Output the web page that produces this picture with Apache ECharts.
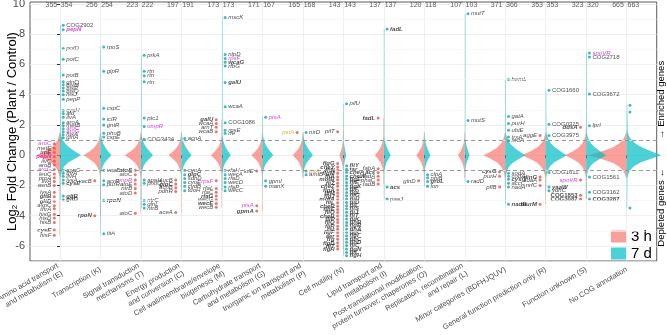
<!DOCTYPE html>
<html>
<head>
<meta charset="utf-8">
<script src="https://cdn.jsdelivr.net/npm/echarts@6/dist/echarts.min.js"></script>
<style>
  html, body { margin: 0; padding: 0; background: #fff; }
  #chart { width: 667px; height: 335px; }
</style>
</head>
<body>
<div id="chart"></div>
<script>
// COG categories (x axis)
const categories = [
  'Amino acid transport\nand metabolism (E)',
  'Transcription (K)',
  'Signal transduction\nmechanisms (T)',
  'Energy production\nand conversion (C)',
  'Cell wall/membrane/envelope\nbiogenesis (M)',
  'Carbohydrate transport\nand metabolism (G)',
  'Inorganic ion transport and\nmetabolism (P)',
  'Cell motility (N)',
  'Lipid transport and\nmetabolism (I)',
  'Post-translational modification,\nprotein turnover, chaperones (O)',
  'Replication, recombination\nand repair (L)',
  'Minor categories (BDFHJQUV)',
  'General function prediction only (R)',
  'Function unknown (S)',
  'No COG annotation'
];

// gene counts printed on top
const count3h = [355, 256, 223, 197, 173, 171, 165, 143, 137, 120, 107, 371, 353, 323, 665];
const count7d = [354, 254, 222, 191, 173, 167, 168, 143, 137, 118, 103, 366, 353, 320, 663];

// violin peak half-widths (category units)
const width3h = [0.59, 0.42, 0.40, 0.32, 0.27, 0.27, 0.25, 0.10, 0.22, 0.20, 0.17, 0.54, 0.59, 0.52, 0.96];
const width7d = [0.52, 0.27, 0.30, 0.25, 0.22, 0.27, 0.25, 0.07, 0.17, 0.15, 0.12, 0.49, 0.52, 0.49, 0.86];

// shared violin body profile (relative density at log2FC levels)
const profileY  = [-1.5, -1.25, -1, -0.75, -0.5, -0.25, 0, 0.25, 0.5, 0.75, 1, 1.25, 1.5];
const profile3h = [0.02, 0.05, 0.1, 0.2, 0.36, 0.65, 1, 0.65, 0.36, 0.2, 0.1, 0.05, 0.02];
const profile7d = [0.02, 0.05, 0.1, 0.2, 0.38, 0.68, 1, 0.72, 0.45, 0.26, 0.14, 0.07, 0.03];

const yTicks = [-6, -4, -2, 0, 2, 4, 6, 8, 10];
const yMinor = [-7, -5, -3, -1, 1, 3, 5, 7, 9];

// labelled genes: [category, log2FC, gene]
const genes3h = [
  [0, 0.75, 'aroC'], [0, 0.45, 'metE'], [0, 0.2, 'trpE'], [0, -0.1, 'pepN'], [0, -0.4, 'ilvC'],
  [0, -0.65, 'aroB'], [0, -0.95, 'aroG'], [0, -1.25, 'leuC'], [0, -1.5, 'proA'], [0, -1.75, 'ilvA'],
  [0, -2.0, 'asnB'], [0, -2.45, 'lysA'], [0, -2.75, 'gltB'], [0, -3.05, 'gltD'], [0, -3.35, 'aspC'],
  [0, -3.55, 'thrA'], [0, -3.9, 'hisG'], [0, -4.15, 'hisD'], [0, -4.45, 'hisB'], [0, -4.95, 'cysE'],
  [0, -5.3, 'hisF'],
  [1, -1.7, 'vacB'], [1, -4.0, 'rpoN'],
  [2, -1.0, 'atoS'], [2, -1.3, 'atoC'], [2, -1.65, 'ompR'], [2, -1.9, 'atoE'], [2, -2.2, 'ntrB'],
  [2, -2.5, 'atoD'], [2, -3.85, 'atoC'],
  [3, -1.65, 'sucB'], [3, -1.9, 'glpC'], [3, -2.15, 'acnB'], [3, -2.4, 'pdhR'], [3, -3.8, 'aceA'],
  [4, 2.35, 'galU'], [4, 2.1, 'wcaA'], [4, 1.85, 'arnT'], [4, 1.55, 'wcaB'], [4, -1.7, 'rpsF'],
  [4, -2.2, 'rfaL'], [4, -2.45, 'rfaC'], [4, -2.7, 'rfaG'], [4, -2.95, 'wecG'], [4, -3.2, 'wecE'],
  [4, -3.45, 'wecB'],
  [5, -1.05, 'lolE'], [5, -3.35, 'ptsA'], [5, -3.7, 'gpmA'],
  [6, 1.5, 'pstA'],
  [7, 1.55, 'pilT'], [7, -0.55, 'flgG'], [7, -0.78, 'cheY'], [7, -0.98, 'fliN'], [7, -1.2, 'flgM'],
  [7, -1.42, 'fliA'], [7, -1.63, 'motB'], [7, -1.85, 'fliZ'], [7, -2.06, 'cheZ'], [7, -2.3, 'flgA'],
  [7, -2.5, 'fliM'], [7, -2.72, 'flgJ'], [7, -2.95, 'motA'], [7, -3.15, 'fliL'], [7, -3.38, 'cheR'],
  [7, -3.6, 'flhE'], [7, -3.8, 'fliO'], [7, -4.03, 'cheB'], [7, -4.25, 'fliP'], [7, -4.46, 'fliQ'],
  [7, -4.7, 'fliR'], [7, -4.9, 'tsr'], [7, -5.12, 'flgF'], [7, -5.35, 'aer'], [7, -5.56, 'trg'],
  [7, -5.8, 'flgD'], [7, -6.0, 'fliT'], [7, -6.2, 'flgH'],
  [8, 2.45, 'fadL'], [8, -0.9, 'fabA'], [8, -1.15, 'acs'], [8, -1.4, 'fadA'], [8, -1.65, 'phaC'],
  [8, -1.9, 'fadB'],
  [9, -1.7, 'glnD'],
  [11, -1.1, 'cysG'], [11, -1.4, 'purH'], [11, -2.1, 'pflB'],
  [12, 1.3, 'aggE'], [12, -1.45, 'dinG'], [12, -1.65, 'sdaA'], [12, -2.0, 'nrfC'], [12, -3.25, 'murM'],
  [13, 1.85, 'ddsA'], [13, -1.65, 'spoVR'], [13, -2.65, 'COG1853'], [13, -2.9, 'COG3087']
];

const genes7d = [
  [0, 8.6, 'COG2902'], [0, 8.3, 'pepN'], [0, 7.05, 'potD'], [0, 6.35, 'potC'], [0, 5.3, 'potB'],
  [0, 4.85, 'glnQ'], [0, 4.65, 'hisM'], [0, 4.45, 'hisP'], [0, 4.25, 'hisQ'], [0, 4.0, 'hisJ'],
  [0, 3.7, 'pepP'], [0, 2.95, 'cysH'], [0, 2.75, 'ald'], [0, 2.5, 'ilvA'], [0, 2.15, 'aroA'],
  [0, 1.95, 'metB'], [0, 1.75, 'aroC'], [0, 1.55, 'aroG'], [0, 1.35, 'hisA'], [0, 1.15, 'glnA'],
  [0, -1.0, 'aspC'], [0, -1.2, 'thrA'], [0, -1.4, 'ilvH'], [0, -1.65, 'lysA'], [0, -1.85, 'cysE'],
  [0, -2.7, 'gltB'], [0, -2.95, 'gltD'],
  [1, 7.15, 'rpoS'], [1, 5.55, 'glpR'], [1, 3.1, 'cspC'], [1, 2.4, 'iclR'], [1, 2.0, 'gntR'],
  [1, 1.45, 'phoB'], [1, 1.2, 'cspE'], [1, -1.0, 'vacB'], [1, -1.7, 'acrR'], [1, -1.95, 'purR'],
  [1, -3.0, 'rpoN'], [1, -5.2, 'fliA'],
  [2, 6.6, 'prkA'], [2, 5.55, 'rtn'], [2, 5.25, 'rtn'], [2, 4.85, 'rtn'], [2, 2.45, 'ptc1'],
  [2, 1.9, 'ompR'], [2, 1.05, 'COG3434'], [2, -1.65, 'apaH'], [2, -1.85, 'phoQ'], [2, -3.0, 'ntrC'],
  [2, -3.25, 'glnL'], [2, -3.5, 'ntrB'],
  [3, 1.1, 'acnA'], [3, -1.0, 'cyoA'], [3, -1.3, 'glpC'], [3, -1.55, 'sdhD'], [3, -1.8, 'cyoE'],
  [3, -2.05, 'cydB'], [3, -2.35, 'fdoH'],
  [4, 9.1, 'mscK'], [4, 6.65, 'nlpD'], [4, 6.4, 'rpsF'], [4, 6.15, 'wcaG'], [4, 5.9, 'rfbG'],
  [4, 4.8, 'galU'], [4, 3.2, 'wcaA'], [4, 2.15, 'COG1086'], [4, 1.65, 'rpsE'], [4, 1.45, 'rfe'],
  [4, -1.0, 'rfaH'], [4, -1.3, 'wecA'], [4, -1.55, 'rfaD'], [4, -1.8, 'wecD'], [4, -2.1, 'rfaP'],
  [4, -2.35, 'wecC'],
  [5, 2.5, 'ptsA'], [5, -1.7, 'gpmI'], [5, -2.05, 'manX'],
  [6, 1.5, 'nirD'], [6, -1.05, 'pitA'], [6, -1.3, 'amtB'],
  [7, 3.4, 'pilU'], [7, -0.7, 'fliY'], [7, -0.93, 'tar'], [7, -1.13, 'cheA'], [7, -1.37, 'cheW'],
  [7, -1.58, 'flgE'], [7, -1.8, 'fliE'], [7, -2.03, 'flgK'], [7, -2.24, 'fliF'], [7, -2.47, 'flgL'],
  [7, -2.68, 'fliG'], [7, -2.9, 'fliH'], [7, -3.13, 'fliD'], [7, -3.34, 'fliI'], [7, -3.55, 'fliS'],
  [7, -3.78, 'fliJ'], [7, -4.0, 'fliT'], [7, -4.22, 'fliK'], [7, -4.45, 'flhB'], [7, -4.66, 'flgB'],
  [7, -4.88, 'flhA'], [7, -5.1, 'flgC'], [7, -5.33, 'flgI'], [7, -5.54, 'flhC'], [7, -5.76, 'flhD'],
  [7, -5.98, 'fliC'], [7, -6.2, 'flgN'], [7, -6.43, 'fliL'], [7, -6.65, 'flgH'],
  [8, 8.35, 'fadL'], [8, -2.1, 'acs'], [8, -2.9, 'paaJ'],
  [9, -1.3, 'clpA'], [9, -1.5, 'ppiB'], [9, -1.75, 'groL'], [9, -2.05, 'lon'],
  [10, 9.35, 'mutT'], [10, 2.3, 'mutS'], [10, -1.75, 'radD'],
  [11, 5.0, 'hemL'], [11, 2.55, 'gatA'], [11, 2.1, 'purH'], [11, 1.65, 'ubiE'], [11, 1.2, 'trxA'],
  [11, 0.95, 'nrdA'], [11, -1.2, 'sodA'], [11, -1.4, 'codA'], [11, -1.6, 'cysG'], [11, -1.85, 'accC'],
  [11, -2.1, 'nadA'], [11, -3.25, 'nadB'],
  [12, 4.3, 'COG1660'], [12, 2.05, 'COG0325'], [12, 1.3, 'COG3975'], [12, -1.15, 'COG1611'],
  [12, -2.1, 'yaaW'], [12, -2.35, 'ydhC'],
  [13, 6.75, 'spoVR'], [13, 6.5, 'COG2718'], [13, 4.05, 'COG3672'], [13, 1.95, 'lprI'],
  [13, -1.45, 'COG1561'], [13, -2.45, 'COG3162'], [13, -2.9, 'COG3287'],
  [14, 3.3, ''], [14, 2.85, ''], [14, -3.5, '']
];

const magentaGenes = ['pepN', 'aroC', 'aroG', 'ompR', 'rpsF', 'ptsA', 'spoVR'];
const goldGenes = ['pstA', 'pitA'];
const boldGenes = ['gltB', 'gltD', 'rpoN', 'atoS', 'glpC', 'wcaG', 'galU', 'rfaG', 'wecE', 'gpmA',
  'fadL', 'acs', 'cysG', 'dinG', 'murM', 'ddsA', 'COG1853', 'COG3087', 'COG3287', 'pepN', 'nadB',
  'yaaW', 'groL', 'cysE'];

const FONT = 'Liberation Sans, Arial, sans-serif';
const fill3h = 'rgba(248,118,109,0.7)';
const fill7d = 'rgba(0,191,196,0.7)';

// split-violin polygon, tails run to the extreme gene of that group
function violin(widths, profile, side, genes, fill) {
  return function (params, api) {
    const i = params.dataIndex;
    const vals = genes.filter(g => g[0] === i).map(g => g[1]);
    const lo = Math.min(profileY[0], ...vals);
    const hi = Math.max(profileY[profileY.length - 1], ...vals);
    const tw = 0.012;
    const pts = [api.coord([i, lo])];
    if (lo < profileY[0]) pts.push(api.coord([i + side * tw, lo]));
    profileY.forEach((y, k) => {
      pts.push(api.coord([i + side * Math.max(tw, profile[k] * widths[i]), y]));
    });
    if (hi > profileY[profileY.length - 1]) pts.push(api.coord([i + side * tw, hi]));
    pts.push(api.coord([i, hi]));
    return {
      type: 'polygon',
      shape: { points: pts },
      style: { fill: fill, stroke: null }
    };
  };
}

function geneItems(list, dx) {
  return list.map(([c, v, name]) => {
    const bold = boldGenes.includes(name) || (c === 7 && v < -0.3);
    let color = '#1a1a1a';
    if (magentaGenes.includes(name)) color = '#C41BC4';
    else if (goldGenes.includes(name)) color = '#D9A21B';
    return {
      value: [c + dx, v],
      name: name,
      label: {
        show: name !== '',
        color: color,
        fontWeight: bold ? 'bold' : 'normal',
        fontStyle: name.startsWith('COG') ? 'normal' : 'italic'
      }
    };
  });
}

const catIdx = categories.map((_, i) => i);
const chart = echarts.init(document.getElementById('chart'));

chart.setOption({
  animation: false,
  textStyle: { fontFamily: FONT },
  grid: {
    left: 30, right: 10.3, top: 2, bottom: 74,
    containLabel: false, outerBoundsMode: 'none',
    show: true, borderColor: '#333', borderWidth: 0.8
  },
  legend: {
    left: 611, top: 229, orient: 'vertical', icon: 'rect',
    itemWidth: 15, itemHeight: 12, itemGap: 2, padding: 0,
    textStyle: { fontSize: 15, color: '#000' },
    data: ['3 h', '7 d']
  },
  xAxis: {
    type: 'value', min: -0.741, max: 14.741,
    axisLine: { show: false },
    axisTick: { show: true, customValues: catIdx, length: 3, lineStyle: { color: '#333' } },
    axisLabel: {
      customValues: catIdx, rotate: 30, fontSize: 7.5, color: '#4D4D4D', margin: 8, lineHeight: 9,
      formatter: v => categories[Math.round(v)]
    },
    splitLine: { show: true, lineStyle: { color: '#EBEBEB', width: 0.8 } }
  },
  yAxis: {
    type: 'value', min: -7, max: 10.13, interval: 1,
    axisLine: { show: false },
    axisTick: { show: true, customValues: yTicks, length: 3, lineStyle: { color: '#333' } },
    axisLabel: {
      customValues: yTicks, fontSize: 11, color: '#4D4D4D', margin: 5,
      formatter: v => (v % 2 === 0 ? String(v) : '')
    },
    splitLine: { show: true, lineStyle: { color: '#EBEBEB', width: 0.8 } },
    name: 'Log{s|2} Fold Change (Plant / Control)',
    nameLocation: 'middle', nameGap: 11, nameMoveOverlap: false,
    nameTextStyle: { fontSize: 13, color: '#000', rich: { s: { fontSize: 8, verticalAlign: 'bottom', padding: [6, 0, 0, 0] } } }
  },
  graphic: [
    { type: 'text', x: 661, y: 139, rotation: Math.PI / 2,
      style: { text: '\u2192 Enriched genes', fontSize: 9.5, fill: '#000', align: 'left', verticalAlign: 'middle', fontFamily: FONT } },
    { type: 'text', x: 661, y: 168, rotation: Math.PI / 2,
      style: { text: 'Depleted genes \u2190', fontSize: 9.5, fill: '#000', align: 'right', verticalAlign: 'middle', fontFamily: FONT } }
  ],
  series: [
    {
      name: 'guides', type: 'scatter', data: [], z: 1, silent: true,
      markLine: {
        silent: true, symbol: 'none', label: { show: false },
        data: yMinor.map(v => ({ yAxis: v, lineStyle: { color: '#F4F4F4', width: 0.6, type: 'solid' } }))
          .concat([1, -1].map(v => ({ yAxis: v, lineStyle: { color: '#808080', width: 0.8, type: [4, 3] } })))
      }
    },
    {
      name: '3 h', type: 'custom', z: 2, silent: true,
      itemStyle: { color: fill3h },
      data: catIdx.map(i => [i, 0]),
      renderItem: violin(width3h, profile3h, -1, genes3h, fill3h)
    },
    {
      name: '7 d', type: 'custom', z: 2, silent: true,
      itemStyle: { color: fill7d },
      data: catIdx.map(i => [i, 0]),
      renderItem: violin(width7d, profile7d, 1, genes7d, fill7d)
    },
    {
      name: 'genes3h', type: 'scatter', z: 4, symbol: 'circle', symbolSize: 3,
      itemStyle: { color: '#E5534B' },
      label: { show: true, position: 'left', distance: 1.5, formatter: '{b}', fontSize: 6, fontFamily: FONT },
      data: geneItems(genes3h, -0.14)
    },
    {
      name: 'genes7d', type: 'scatter', z: 4, symbol: 'circle', symbolSize: 3,
      itemStyle: { color: '#17A5A8' },
      label: { show: true, position: 'right', distance: 1.5, formatter: '{b}', fontSize: 6, fontFamily: FONT },
      data: geneItems(genes7d, 0.08)
    },
    {
      name: 'n3h', type: 'scatter', symbolSize: 0, z: 5, silent: true,
      label: { show: true, position: 'left', distance: 0, formatter: '{b}', fontSize: 7, color: '#333' },
      data: count3h.map((n, i) => ({ value: [i - 0.07, 9.93], name: String(n) }))
    },
    {
      name: 'n7d', type: 'scatter', symbolSize: 0, z: 5, silent: true,
      label: { show: true, position: 'right', distance: 0, formatter: '{b}', fontSize: 7, color: '#333' },
      data: count7d.map((n, i) => ({ value: [i + 0.02, 9.93], name: String(n) }))
    }
  ]
});
</script>
</body>
</html>
